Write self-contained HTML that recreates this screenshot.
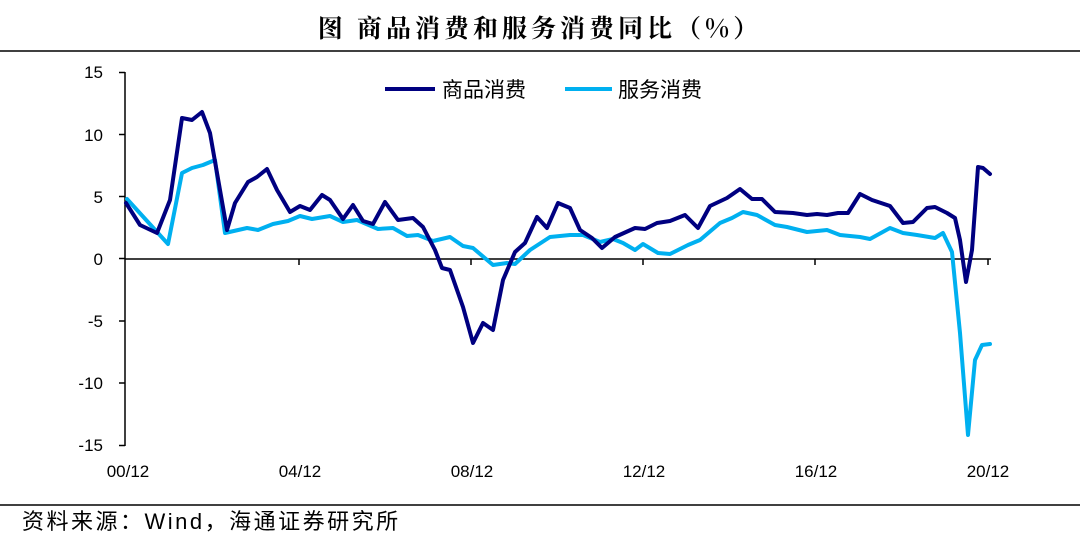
<!DOCTYPE html>
<html><head><meta charset="utf-8"><style>
body{margin:0;background:#fff;width:1080px;height:538px;overflow:hidden}
svg{display:block}
</style></head><body>
<svg width="1080" height="538" xmlns="http://www.w3.org/2000/svg">
<text x="540" y="37" text-anchor="middle" font-family="'Noto Serif CJK SC','Liberation Serif',serif" font-weight="bold" font-size="25" letter-spacing="4">图 商品消费和服务消费同比（%）</text>
<line x1="0" y1="51" x2="1080" y2="51" stroke="#000" stroke-width="1.5"/>
<g font-family="'Liberation Sans',sans-serif" font-size="17" text-anchor="end" fill="#000">
<text x="103" y="78">15</text><text x="103" y="141">10</text><text x="103" y="203">5</text>
<text x="103" y="265">0</text><text x="103" y="327">-5</text><text x="103" y="389">-10</text><text x="103" y="451">-15</text>
</g>
<g font-family="'Liberation Sans',sans-serif" font-size="17" text-anchor="middle">
<text x="128" y="477">00/12</text><text x="300" y="477">04/12</text><text x="472" y="477">08/12</text>
<text x="644" y="477">12/12</text><text x="816" y="477">16/12</text><text x="988" y="477">20/12</text>
</g>
<g stroke="#000" stroke-width="1.5" fill="none">
<line x1="125" y1="72" x2="125" y2="446"/>
<line x1="119" y1="72.5" x2="125" y2="72.5"/><line x1="119" y1="134.5" x2="125" y2="134.5"/><line x1="119" y1="196.5" x2="125" y2="196.5"/>
<line x1="119" y1="258.5" x2="125" y2="258.5"/><line x1="119" y1="321" x2="125" y2="321"/><line x1="119" y1="383" x2="125" y2="383"/><line x1="119" y1="445.5" x2="125" y2="445.5"/>
<line x1="125" y1="259" x2="991" y2="259"/>
<line x1="299" y1="259" x2="299" y2="265"/><line x1="471" y1="259" x2="471" y2="265"/><line x1="643" y1="259" x2="643" y2="265"/><line x1="815" y1="259" x2="815" y2="265"/><line x1="988" y1="259" x2="988" y2="265"/>
</g>
<polyline fill="none" stroke="#00B0F0" stroke-width="4" stroke-linejoin="round" stroke-linecap="round" points="127,199 168,244 182,173 192,168 203,165 215,160 225,233 247,228 258,230 273,224 288,221 300,216 312,219 330,216 343,222 357,220 378,229 393,228 407,236 418,235 433,241 450,237 463,246 473,248 493,265 507,263 515,264 530,250 550,237 570,235 583,235 600,242 613,239 623,243 635,250 643,244 658,253 670,254 688,245 700,240 720,223 732,218 743,212 757,215 775,225 787,227 807,232 827,230 840,235 860,237 870,239 890,228 903,233 917,235 935,238 943,233 952,252 960,333 968,435 975,360 982,345 990,344"/>
<polyline fill="none" stroke="#000080" stroke-width="4" stroke-linejoin="round" stroke-linecap="round" points="126,203 140,225 157,233 170,200 182,118 192,120 202,112 210,133 227,230 235,203 248,182 257,177 267,169 277,190 290,212 300,206 310,210 322,195 330,200 343,219 353,205 363,221 373,224 385,202 398,220 413,218 423,227 435,250 442,268 450,270 463,307 473,343 483,323 493,330 503,280 515,252 525,243 537,217 547,228 558,203 570,208 580,230 592,238 602,248 615,237 635,228 645,229 657,223 670,221 685,215 698,228 710,206 727,198 740,189 752,199 762,199 775,212 793,213 807,215 817,214 827,215 838,213 848,213 860,194 872,200 890,206 903,223 913,222 927,208 935,207 947,213 955,218 960,240 966,282 972,250 978,167 983,168 990,174"/>
<line x1="385" y1="89" x2="435" y2="89" stroke="#000080" stroke-width="4"/>
<line x1="565" y1="89" x2="612" y2="89" stroke="#00B0F0" stroke-width="4"/>
<g font-family="'Liberation Sans','Noto Sans CJK SC',sans-serif" font-size="21">
<text x="442" y="97">商品消费</text><text x="618" y="97">服务消费</text>
</g>
<line x1="0" y1="505" x2="1080" y2="505" stroke="#000" stroke-width="1.5"/>
<text x="22" y="529" font-family="'Liberation Sans','Noto Sans CJK SC',sans-serif" font-size="22" letter-spacing="2.5">资料来源：Wind，海通证券研究所</text>
</svg>
</body></html>
